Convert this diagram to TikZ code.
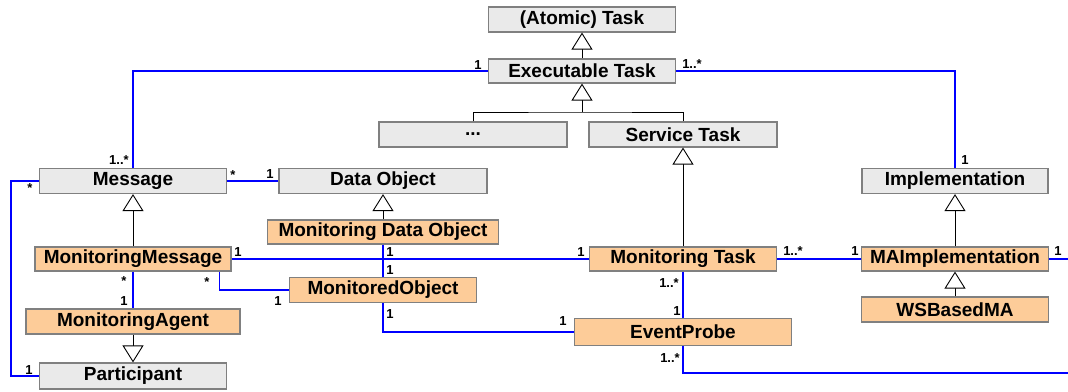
\documentclass[tikz,border=0pt]{standalone}
\usepackage{fontspec}
\setmainfont{Liberation Sans}
\usetikzlibrary{arrows.meta}
\definecolor{clsgray}{HTML}{EAEAEA}
\definecolor{boxedge}{HTML}{808080}
\definecolor{monorange}{HTML}{FDCC99}
\definecolor{assocblue}{RGB}{0,0,255}
\begin{document}
\begin{tikzpicture}[x=1pt,y=-1pt,
  cls/.style={draw=boxedge, line width=1.2pt, fill=clsgray, inner sep=0pt,
    minimum height=25pt, font=\fontsize{19}{19}\selectfont\bfseries},
  mon/.style={cls, fill=monorange},
  assoc/.style={color=assocblue, line width=1.4pt},
  genline/.style={draw=black, line width=0.9pt},
  gen/.style={genline, -{Triangle[width=21pt, length=17pt, fill=white]}},
  mult/.style={inner sep=0pt, font=\fontsize{13}{13}\selectfont\bfseries}]

\fill[white] (0,0) rectangle (1068,391);
\useasboundingbox (0,0) rectangle (1068,391);

% classes
\node[cls, minimum width=187pt] (atomic) at (582,19.5) {(Atomic) Task};
\node[cls, minimum width=187pt, minimum height=24pt] (exec) at (582,71) {Executable Task};
\node[cls, minimum width=188pt] (dots) at (473,134.5) {...};
\node[cls, minimum width=188pt] (st) at (683,134.5) {Service Task};
\node[cls, minimum width=187pt] (msg) at (133,181) {Message};
\node[cls, minimum width=208pt] (dobj) at (383,181) {Data Object};
\node[cls, minimum width=186pt] (impl) at (955,181) {Implementation};
\node[mon, minimum width=231pt, minimum height=24pt] (mdo) at (383,232) {Monitoring Data Object};
\node[mon, minimum width=196pt, minimum height=24pt] (mm) at (133,259) {MonitoringMessage};
\node[mon, minimum width=187pt, minimum height=24pt] (mt) at (683,259) {Monitoring Task};
\node[mon, minimum width=187pt, minimum height=24pt] (mai) at (955,259) {MAImplementation};
\node[mon, minimum width=187pt] (mo) at (383,290) {MonitoredObject};
\node[mon, minimum width=187pt] (ws) at (955,309.5) {WSBasedMA};
\node[mon, minimum width=214pt] (ma) at (133,321.5) {MonitoringAgent};
\node[mon, minimum width=217pt, minimum height=27pt] (ep) at (683,332) {EventProbe};
\node[cls, minimum width=187pt, minimum height=26pt] (part) at (133,376) {Participant};

% helper points
\coordinate (tj) at (exec.south |- 0,112);
\coordinate (mpk) at (11,0);
\coordinate (mmk) at ([xshift=-12pt]mm.south east);
\coordinate (eR1) at (1068,259);
\coordinate (eR2) at (1068,373);

% generalizations
\draw[gen] (exec.north) -- (atomic.south);
\draw[gen] (tj) -- (exec.south);
\draw[genline] (dots.north) |- (tj) -| (st.north);
\draw[gen] (mt.north) -- (st.south);
\draw[gen] (mm.north) -- (msg.south);
\draw[gen] (mdo.north) -- (dobj.south);
\draw[gen] (mai.north) -- (impl.south);
\draw[gen] (ws.north) -- (mai.south);
\draw[gen] (ma.south) -- (part.north);

% associations
\draw[assoc] (msg.north) |- (exec.west);
\draw[assoc] (exec.east) -| (impl.north);
\draw[assoc] (msg.east) -- (dobj.west);
\draw[assoc] (msg.west) -| (mpk |- part.west) -- (part.west);
\draw[assoc] (mm.south) -- (ma.north);
\draw[assoc] (mm.east) -- (mt.west);
\draw[assoc] (mmk) |- (mo.west);
\draw[assoc] (mdo.south) -- (mdo.south |- mo.north);
\draw[assoc] (mo.south) |- (ep.west);
\draw[assoc] (mt.south) -- (ep.north);
\draw[assoc] (ep.south) |- (eR2);
\draw[assoc] (mt.east) -- (mai.west);
\draw[assoc] (mai.east) -- (eR1);

% multiplicities
\node[mult] (m1) at (119,160) {1..*};
\node[mult] (m2) at (478,65) {1};
\node[mult] (m3) at (692,64) {1..*};
\node[mult] (m4) at (965,160) {1};
\node[mult] (m5) at (233,175) {*};
\node[mult] (m6) at (270,174) {1};
\node[mult] (m7) at (30,188) {*};
\node[mult] (m8) at (29,370) {1};
\node[mult] (m9) at (124,281) {*};
\node[mult] (m10) at (124,301) {1};
\node[mult] (m11) at (238,252) {1};
\node[mult] (m12) at (207,282) {*};
\node[mult] (m13) at (278,301) {1};
\node[mult] (m14) at (390,252) {1};
\node[mult] (m15) at (390,270) {1};
\node[mult] (m16) at (390,314) {1};
\node[mult] (m17) at (563,321) {1};
\node[mult] (m18) at (581,252) {1};
\node[mult] (m19) at (669,283) {1..*};
\node[mult] (m20) at (677,311) {1};
\node[mult] (m21) at (670,358) {1..*};
\node[mult] (m22) at (793,251) {1..*};
\node[mult] (m23) at (855,251) {1};
\node[mult] (m24) at (1058,251) {1};
\end{tikzpicture}
\end{document}
